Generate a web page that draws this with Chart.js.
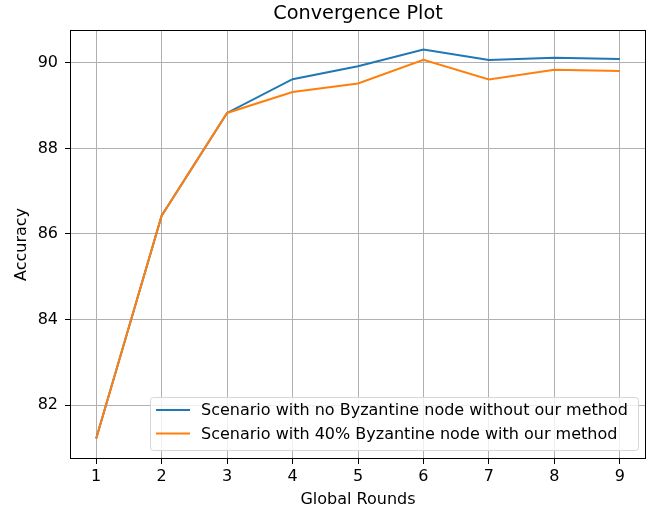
<!DOCTYPE html>
<html>
<head>
<meta charset="utf-8">
<script src="https://cdn.jsdelivr.net/npm/chart.js@4/dist/chart.umd.min.js"></script>
<style>
html,body{margin:0;padding:0;background:#fff;}
#wrap{width:650px;height:510px;}
</style>
</head>
<body>
<div id="wrap"><canvas id="c" width="650" height="510"></canvas></div>
<script>
const rounds = [1, 2, 3, 4, 5, 6, 7, 8, 9];
const noByzantine = [81.22, 86.43, 88.83, 89.62, 89.92, 90.31, 90.07, 90.12, 90.09];
const byzantine40 = [81.22, 86.43, 88.83, 89.32, 89.52, 90.07, 89.61, 89.84, 89.81];
const yTicks = [82, 84, 86, 88, 90];
const seriesNames = [
  'Scenario with no Byzantine node without our method',
  'Scenario with 40% Byzantine node with our method'
];
const colors = ['#1f77b4', '#ff7f0e'];
const FONT = "'DejaVu Sans', sans-serif";

const frame = {
  id: 'frame',
  afterDatasetsDraw(chart) {
    const a = chart.chartArea, ctx = chart.ctx;
    ctx.save();
    ctx.strokeStyle = '#000';
    ctx.lineWidth = 1;
    ctx.strokeRect(Math.round(a.left) + 0.5, Math.round(a.top) + 0.5,
      Math.round(a.right - a.left) - 1, Math.round(a.bottom - a.top) - 1);
    ctx.restore();
  },
  afterDraw(chart) {
    const ctx = chart.ctx;
    const x0 = 150.5, y0 = 397.5, w = 488, h = 53, r = 3;
    ctx.save();
    ctx.beginPath();
    ctx.moveTo(x0 + r, y0);
    ctx.lineTo(x0 + w - r, y0);
    ctx.quadraticCurveTo(x0 + w, y0, x0 + w, y0 + r);
    ctx.lineTo(x0 + w, y0 + h - r);
    ctx.quadraticCurveTo(x0 + w, y0 + h, x0 + w - r, y0 + h);
    ctx.lineTo(x0 + r, y0 + h);
    ctx.quadraticCurveTo(x0, y0 + h, x0, y0 + h - r);
    ctx.lineTo(x0, y0 + r);
    ctx.quadraticCurveTo(x0, y0, x0 + r, y0);
    ctx.closePath();
    ctx.fillStyle = 'rgba(255,255,255,0.8)';
    ctx.fill();
    ctx.strokeStyle = '#d6d6d6';
    ctx.lineWidth = 1;
    ctx.stroke();
    ctx.font = '16px ' + FONT;
    ctx.textBaseline = 'middle';
    ctx.textAlign = 'left';
    const ys = [410, 433.5];
    for (let i = 0; i < 2; i++) {
      ctx.strokeStyle = colors[i];
      ctx.lineWidth = 2;
      ctx.beginPath();
      ctx.moveTo(156, ys[i]);
      ctx.lineTo(190, ys[i]);
      ctx.stroke();
      ctx.fillStyle = '#000';
      ctx.fillText(seriesNames[i], 201, ys[i] + 1);
    }
    ctx.restore();
  }
};

new Chart(document.getElementById('c'), {
  type: 'line',
  data: {
    datasets: [
      { label: seriesNames[0], data: rounds.map((x, i) => ({x, y: noByzantine[i]})),
        borderColor: colors[0], backgroundColor: colors[0], borderWidth: 2, pointRadius: 0, tension: 0, order: 1 },
      { label: seriesNames[1], data: rounds.map((x, i) => ({x, y: byzantine40[i]})),
        borderColor: colors[1], backgroundColor: colors[1], borderWidth: 2, pointRadius: 0, tension: 0, order: 0 }
    ]
  },
  options: {
    responsive: false,
    animation: false,
    layout: { padding: { left: 0, right: 4, top: 0, bottom: 0 } },
    plugins: {
      legend: { display: false },
      tooltip: { enabled: false },
      title: {
        display: true, fullSize: false, text: 'Convergence Plot', color: '#000',
        font: { family: FONT, size: 19.3, weight: 'normal', lineHeight: 1.2 },
        padding: { top: 2, bottom: 4.8 }
      }
    },
    scales: {
      x: {
        type: 'linear', min: 0.6, max: 9.4,
        afterBuildTicks: s => { s.ticks = rounds.map(v => ({value: v})); },
        afterFit: s => { s.height = 51; },
        grid: { color: '#b0b0b0', lineWidth: 1, tickColor: '#000', tickLength: 5, drawOnChartArea: true },
        border: { display: false },
        ticks: { color: '#000', font: { family: FONT, size: 16 }, padding: 3, maxRotation: 0 },
        title: { display: true, text: 'Global Rounds', color: '#000', font: { family: FONT, size: 16 }, padding: { top: 0, bottom: 1 } }
      },
      y: {
        min: 80.74, max: 90.77,
        afterBuildTicks: s => { s.ticks = yTicks.map(v => ({value: v})); },
        afterFit: s => { s.width = 70; },
        grid: { color: '#b0b0b0', lineWidth: 1, tickColor: '#000', tickLength: 5 },
        border: { display: false },
        ticks: { color: '#000', font: { family: FONT, size: 16 }, padding: 7 },
        title: { display: true, text: 'Accuracy', color: '#000', font: { family: FONT, size: 16 }, padding: { top: 12, bottom: 0 } }
      }
    }
  },
  plugins: [frame]
});
</script>
</body>
</html>
